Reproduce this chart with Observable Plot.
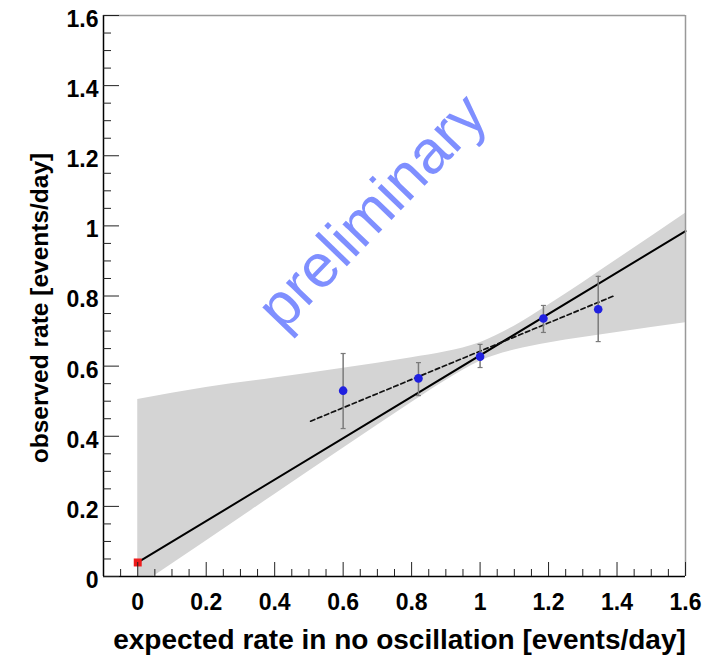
<!DOCTYPE html>
<html><head><meta charset="utf-8">
<script src="https://cdn.jsdelivr.net/npm/d3@7"></script>
<script src="https://cdn.jsdelivr.net/npm/@observablehq/plot@0.6"></script>
<style>html,body{margin:0;padding:0;background:#fff;} #chart{width:712px;height:657px;}</style>
</head><body><div id="chart"></div>
<script>
// ---- data ----
const pointX    = [0.6, 0.82, 1.0, 1.185, 1.345];
const pointY    = [0.53, 0.565, 0.627, 0.736, 0.762];
const pointLow  = [0.422, 0.516, 0.596, 0.696, 0.67];
const pointHigh = [0.636, 0.61, 0.662, 0.773, 0.856];

const fitX = [0, 1.6];
const fitY = [0.04, 0.985];

const dashX = [0.505, 1.39];
const dashY = [0.443, 0.80];

const bandX    = [0, 0.2, 0.4, 0.6, 0.8, 0.9, 1.0, 1.1, 1.2, 1.4, 1.6];
const bandLow  = [-0.03, 0.101, 0.234, 0.366, 0.496, 0.559, 0.614, 0.646, 0.666, 0.696, 0.724];
const bandHigh = [0.505, 0.539, 0.566, 0.594, 0.624, 0.641, 0.667, 0.714, 0.774, 0.904, 1.036];

const refX = [0];
const refY = [0.04];

const xTicks = [0, 0.2, 0.4, 0.6, 0.8, 1, 1.2, 1.4, 1.6];
const xTickLabels = ["0", "0.2", "0.4", "0.6", "0.8", "1", "1.2", "1.4", "1.6"];
const yTicks = [0, 0.2, 0.4, 0.6, 0.8, 1, 1.2, 1.4, 1.6];
const yTickLabels = ["0", "0.2", "0.4", "0.6", "0.8", "1", "1.2", "1.4", "1.6"];
const xDomain = [-0.1, 1.6];
const yDomain = [0, 1.6];

const xLabel = "expected rate in no oscillation [events/day]";
const yLabel = "observed rate [events/day]";
const watermark = "preliminary";
const watermarkAt = [0.685, 1.04];

// ---- layout / style ----
const W = 712, H = 657, mt = 15, mr = 27, mb = 81, ml = 103;
const innerW = W - ml - mr, innerH = H - mt - mb;
const font = "'Liberation Sans', Arial, Helvetica, sans-serif";

const points = pointX.map((x, i) => ({x, y: pointY[i], lo: pointLow[i], hi: pointHigh[i]}));
const band = bandX.map((x, i) => ({x, lo: bandLow[i], hi: bandHigh[i]}));
const fit = fitX.map((x, i) => ({x, y: fitY[i]}));
const dash = dashX.map((x, i) => ({x, y: dashY[i]}));
const ref = refX.map((x, i) => ({x, y: refY[i]}));

const xMinor = d3.range(-2, 33).map(i => +(i * 0.05).toFixed(2)).filter(v => v > xDomain[0] && !xTicks.includes(v));
const yMinor = d3.range(1, 32).map(i => +(i * 0.05).toFixed(2)).filter(v => !yTicks.includes(v));

const capSymbol = {draw(ctx, size) { const h = Math.sqrt(size / Math.PI); ctx.moveTo(-h, 0); ctx.lineTo(h, 0); }};

const chart = Plot.plot({
  width: W, height: H,
  marginTop: mt, marginRight: mr, marginBottom: mb, marginLeft: ml,
  style: {fontFamily: font, background: "#fff", color: "#000"},
  x: {domain: xDomain, axis: null},
  y: {domain: yDomain, axis: null},
  marks: [
    Plot.areaY(band, {x: "x", y1: "lo", y2: "hi", fill: "#d4d4d4", curve: "monotone-x", clip: true}),
    Plot.text([{x: watermarkAt[0], y: watermarkAt[1], t: watermark}], {
      x: "x", y: "y", text: "t", rotate: -46, fontSize: 61, fill: "#7f8fff", fontFamily: font
    }),
    Plot.line(fit, {x: "x", y: "y", stroke: "#000", strokeWidth: 2}),
    Plot.line(dash, {x: "x", y: "y", stroke: "#111", strokeWidth: 1.7, strokeDasharray: "4.5,3"}),
    Plot.ruleX(points, {x: "x", y1: "lo", y2: "hi", stroke: "#7a7a7a", strokeWidth: 1.5}),
    Plot.dot(points, {x: "x", y: "lo", symbol: capSymbol, r: 2.5, fill: "none", stroke: "#7a7a7a", strokeWidth: 1.2}),
    Plot.dot(points, {x: "x", y: "hi", symbol: capSymbol, r: 2.5, fill: "none", stroke: "#7a7a7a", strokeWidth: 1.2}),
    Plot.dot(points, {x: "x", y: "y", r: 4.3, fill: "#2020e0", stroke: "none"}),
    Plot.dot(ref, {x: "x", y: "y", symbol: "square", r: 4.5, fill: "#ee1c1c", stroke: "none"}),
    // frame
    Plot.ruleY([yDomain[1]], {stroke: "#999", strokeWidth: 1.5}),
    Plot.ruleX([xDomain[1]], {stroke: "#999", strokeWidth: 1.5}),
    Plot.ruleX([xDomain[0]], {stroke: "#000", strokeWidth: 1.5}),
    Plot.ruleY([yDomain[0]], {stroke: "#000", strokeWidth: 1.5}),
    // inward ticks
    Plot.tickX(xMinor, {x: d => d, insetTop: innerH - 7, stroke: "#222"}),
    Plot.tickX(xTicks, {x: d => d, insetTop: innerH - 14, stroke: "#222"}),
    Plot.tickY(yMinor, {y: d => d, insetRight: innerW - 8, stroke: "#222"}),
    Plot.tickY(yTicks, {y: d => d, insetRight: innerW - 16, stroke: "#222"}),
    // tick labels
    Plot.axisX(xTicks, {tickSize: 0, tickPadding: 17, label: null, tickFormat: d => xTickLabels[xTicks.indexOf(d)], fontSize: 23, fontWeight: "bold", fill: "#000"}),
    Plot.axisY(yTicks, {tickSize: 0, tickPadding: 5, dy: 4, label: null, tickFormat: d => yTickLabels[yTicks.indexOf(d)], fontSize: 23, fontWeight: "bold", fill: "#000"}),
    // axis titles
    Plot.text([yLabel], {frameAnchor: "left", rotate: -90, dx: -63, dy: 12, textAnchor: "middle", lineAnchor: "middle", fontSize: 24.5, fontWeight: "bold", fill: "#000"}),
    Plot.text([xLabel], {frameAnchor: "bottom", dy: 64, dx: 5, textAnchor: "middle", lineAnchor: "middle", fontSize: 28, fontWeight: "bold", fill: "#000"})
  ]
});
document.getElementById("chart").appendChild(chart);
</script>
</body></html>
